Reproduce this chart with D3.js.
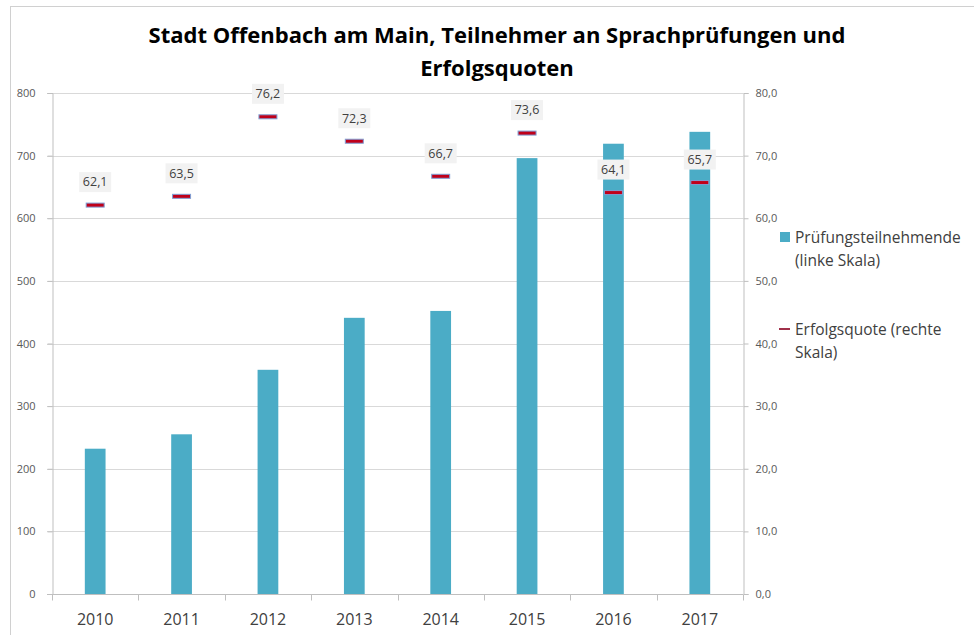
<!DOCTYPE html>
<html>
<head>
<meta charset="utf-8">
<script src="https://cdn.jsdelivr.net/npm/d3@7"></script>
<style>
  body { margin: 0; background: #fff; }
  text { font-family: "Open Sans", "DejaVu Sans", sans-serif; }
</style>
</head>
<body>
<svg width="974" height="635"></svg>
<script>
// data
var years = ["2010", "2011", "2012", "2013", "2014", "2015", "2016", "2017"];
var teilnehmende = [232, 255, 358, 441, 452, 696, 719, 738];
var quote = [62.1, 63.5, 76.2, 72.3, 66.7, 73.6, 64.1, 65.7];
var leftTicks = [0, 100, 200, 300, 400, 500, 600, 700, 800];
var rightTicks = [0, 10, 20, 30, 40, 50, 60, 70, 80];

var svg = d3.select("svg");

var pLeft = 52, pRight = 743, pTop = 93, pBottom = 594;

// chart frame
svg.append("rect")
  .attr("x", 10.5).attr("y", 6.5)
  .attr("width", 1000).attr("height", 1000)
  .attr("fill", "none").attr("stroke", "#d0d0d0");

var x = d3.scaleBand().domain(years).range([pLeft, pRight]).paddingInner(0.76).paddingOuter(0.38);
var xb = d3.scaleBand().domain(years).range([pLeft, pRight]);
var yL = d3.scaleLinear().domain([0, 800]).range([pBottom, pTop]);
var yR = d3.scaleLinear().domain([0, 80]).range([pBottom, pTop]);

// gridlines
svg.append("g")
  .selectAll("line")
  .data(leftTicks.slice(1))
  .enter().append("line")
  .attr("x1", pLeft - 5).attr("x2", pRight)
  .attr("y1", d => Math.round(yL(d)) + 0.5).attr("y2", d => Math.round(yL(d)) + 0.5)
  .attr("stroke", "#d9d9d9");

// left axis
var axL = svg.append("g").attr("transform", "translate(" + (pLeft + 0.5) + ",0)")
  .call(d3.axisLeft(yL).tickValues(leftTicks).tickSize(5).tickPadding(9).tickFormat(d3.format("d")));
// right axis
var axR = svg.append("g").attr("transform", "translate(" + (pRight + 0.5) + ",0)")
  .call(d3.axisRight(yR).tickValues(rightTicks).tickSize(5).tickPadding(7)
    .tickFormat(d => d3.format(".1f")(d).replace(".", ",")));
[axL, axR].forEach(a => {
  a.select(".domain").attr("stroke", "#bfbfbf");
  a.selectAll(".tick line").attr("stroke", "#bfbfbf");
  a.selectAll(".tick text").attr("fill", "#595959").style("font-size", "11px");
});
axL.selectAll(".tick text").attr("dx", "-3");

// bars
svg.append("g")
  .selectAll("rect")
  .data(teilnehmende)
  .enter().append("rect")
  .attr("x", (d, i) => x(years[i]))
  .attr("width", x.bandwidth())
  .attr("y", d => yL(d))
  .attr("height", d => pBottom - yL(d))
  .attr("fill", "#4bacc6");

// bottom axis
var axB = svg.append("g").attr("transform", "translate(0," + (pBottom + 0.5) + ")");
axB.append("line").attr("x1", pLeft - 5).attr("x2", pRight).attr("stroke", "#bfbfbf");
axB.selectAll("line.t")
  .data(years.concat(["end"]))
  .enter().append("line")
  .attr("class", "t")
  .attr("x1", (d, i) => Math.round(pLeft + i * xb.bandwidth()) + 0.5)
  .attr("x2", (d, i) => Math.round(pLeft + i * xb.bandwidth()) + 0.5)
  .attr("y1", 0).attr("y2", 6)
  .attr("stroke", "#bfbfbf");
axB.selectAll("text")
  .data(years)
  .enter().append("text")
  .attr("x", d => xb(d) + xb.bandwidth() / 2)
  .attr("y", 30)
  .attr("text-anchor", "middle")
  .attr("fill", "#404040")
  .style("font-size", "16px")
  .text(d => d);

// quote markers
var mk = svg.append("g");
mk.selectAll("rect")
  .data(quote)
  .enter().append("rect")
  .attr("x", (d, i) => xb(years[i]) + xb.bandwidth() / 2 - 9)
  .attr("y", d => yR(d) - 2)
  .attr("width", 18).attr("height", 4)
  .attr("fill", "#c0001a")
  .attr("stroke", "#7f9fd4").attr("stroke-width", 1);

// value labels
var lab = svg.append("g").selectAll("g")
  .data(quote)
  .enter().append("g")
  .attr("transform", (d, i) => "translate(" + (xb(years[i]) + xb.bandwidth() / 2) + "," + (yR(d) - 23) + ")");
lab.append("rect")
  .attr("x", -16).attr("y", -10).attr("width", 32).attr("height", 20)
  .attr("fill", "#f2f2f2");
lab.append("text")
  .attr("text-anchor", "middle")
  .attr("dy", "0.35em")
  .attr("fill", "#404040")
  .style("font-size", "12.5px")
  .text(d => d3.format(".1f")(d).replace(".", ","));

// title
var title = svg.append("text")
  .attr("text-anchor", "middle")
  .attr("fill", "#000")
  .style("font-size", "22px")
  .style("font-weight", "bold");
title.append("tspan").attr("x", 497).attr("y", 43).text("Stadt Offenbach am Main, Teilnehmer an Sprachprüfungen und");
title.append("tspan").attr("x", 497).attr("y", 76).text("Erfolgsquoten");

// legend
var lg = svg.append("g");
lg.append("rect").attr("x", 780).attr("y", 232).attr("width", 10).attr("height", 10).attr("fill", "#4bacc6");
lg.append("rect").attr("x", 779).attr("y", 328).attr("width", 11).attr("height", 2).attr("fill", "#a0304a");
var lt = lg.append("text").attr("fill", "#404040").style("font-size", "15.5px");
lt.append("tspan").attr("x", 795).attr("y", 243).text("Prüfungsteilnehmende");
lt.append("tspan").attr("x", 795).attr("y", 266).text("(linke Skala)");
lt.append("tspan").attr("x", 795).attr("y", 335).text("Erfolgsquote (rechte");
lt.append("tspan").attr("x", 795).attr("y", 358).text("Skala)");
</script>
</body>
</html>
